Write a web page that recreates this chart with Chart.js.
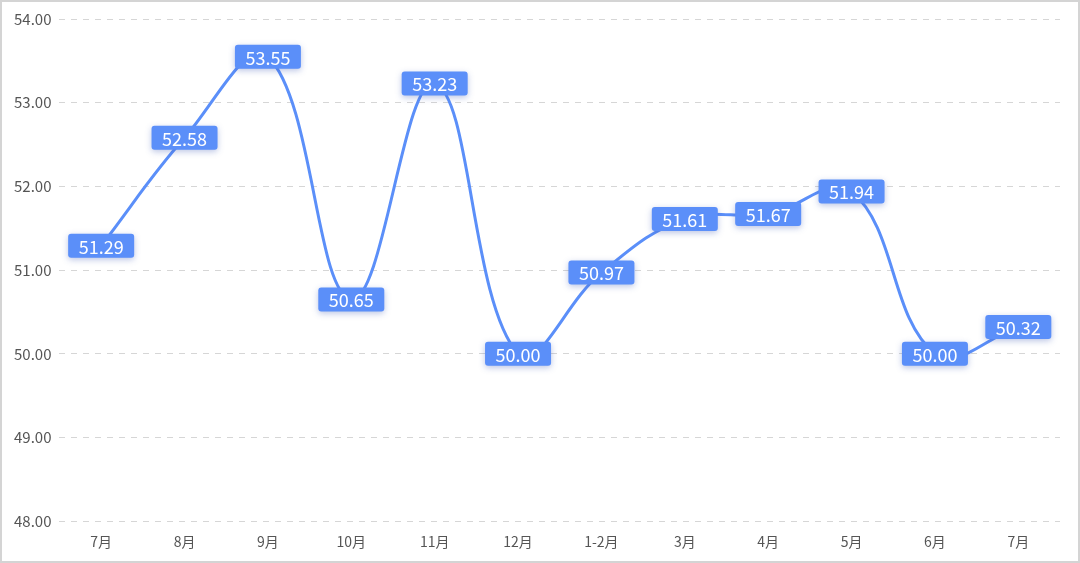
<!DOCTYPE html>
<html>
<head>
<meta charset="utf-8">
<script src="https://cdn.jsdelivr.net/npm/chart.js@4"></script>
<style>
  html, body { margin: 0; padding: 0; background: #fff; }
  .frame {
    width: 1080px; height: 563px; box-sizing: border-box;
    border: 2px solid #d4d4d4; position: relative;
  }
  canvas { display: block; }
</style>
</head>
<body>
<div class="frame"><canvas id="pmiChart" width="1076" height="559"></canvas></div>
<script>
// ── DATA ──────────────────────────────────────────────────────────────
const MONTHS = ['7月','8月','9月','10月','11月','12月','1-2月','3月','4月','5月','6月','7月'];
const VALUES = [51.29, 52.58, 53.55, 50.65, 53.23, 50.00, 50.97, 51.61, 51.67, 51.94, 50.00, 50.32];
const Y_MIN = 48, Y_MAX = 54, Y_STEP = 1;

const BLUE = '#5b8ff9';
const FONT = '"Noto Sans CJK SC", "Open Sans", sans-serif';

// ── VALUE BADGES (drawn at each point's pixel position) ───────────────
const badgePlugin = {
  id: 'badges',
  afterDatasetsDraw(chart) {
    const ctx = chart.ctx;
    const meta = chart.getDatasetMeta(0);
    ctx.save();
    ctx.font = '18px ' + FONT;
    ctx.textAlign = 'center';
    ctx.textBaseline = 'middle';
    meta.data.forEach((pt, i) => {
      const text = VALUES[i].toFixed(2);
      const w = 66, h = 24;
      const x = pt.x - w / 2, y = pt.y - h / 2;
      ctx.shadowColor = 'rgba(60,90,180,.35)';
      ctx.shadowBlur = 6;
      ctx.shadowOffsetY = 2;
      ctx.fillStyle = BLUE;
      ctx.beginPath();
      ctx.roundRect(x, y, w, h, 3);
      ctx.fill();
      ctx.shadowColor = 'transparent';
      ctx.fillStyle = '#fff';
      ctx.fillText(text, pt.x, pt.y + 1);
    });
    ctx.restore();
  }
};

new Chart(document.getElementById('pmiChart'), {
  type: 'line',
  data: {
    labels: MONTHS,
    datasets: [{
      data: VALUES,
      borderColor: BLUE,
      borderWidth: 3,
      pointRadius: 0,
      tension: 0.4,
      fill: false
    }]
  },
  options: {
    responsive: false,
    animation: false,
    layout: { padding: { top: -2, right: 18, left: 4, bottom: 7 } },
    plugins: { legend: { display: false }, tooltip: { enabled: false } },
    scales: {
      x: {
        offset: true,
        grid: { display: false },
        border: { display: false },
        ticks: { color: '#555', font: { size: 14, family: FONT }, padding: 4 }
      },
      y: {
        min: Y_MIN, max: Y_MAX,
        border: { display: false, dash: [6, 6] },
        grid: { color: '#d6d6d6', drawTicks: false },
        ticks: {
          stepSize: Y_STEP, color: '#555', padding: 8,
          font: { size: 15, family: FONT },
          callback: v => v.toFixed(2)
        }
      }
    }
  },
  plugins: [badgePlugin]
});
</script>
</body>
</html>
